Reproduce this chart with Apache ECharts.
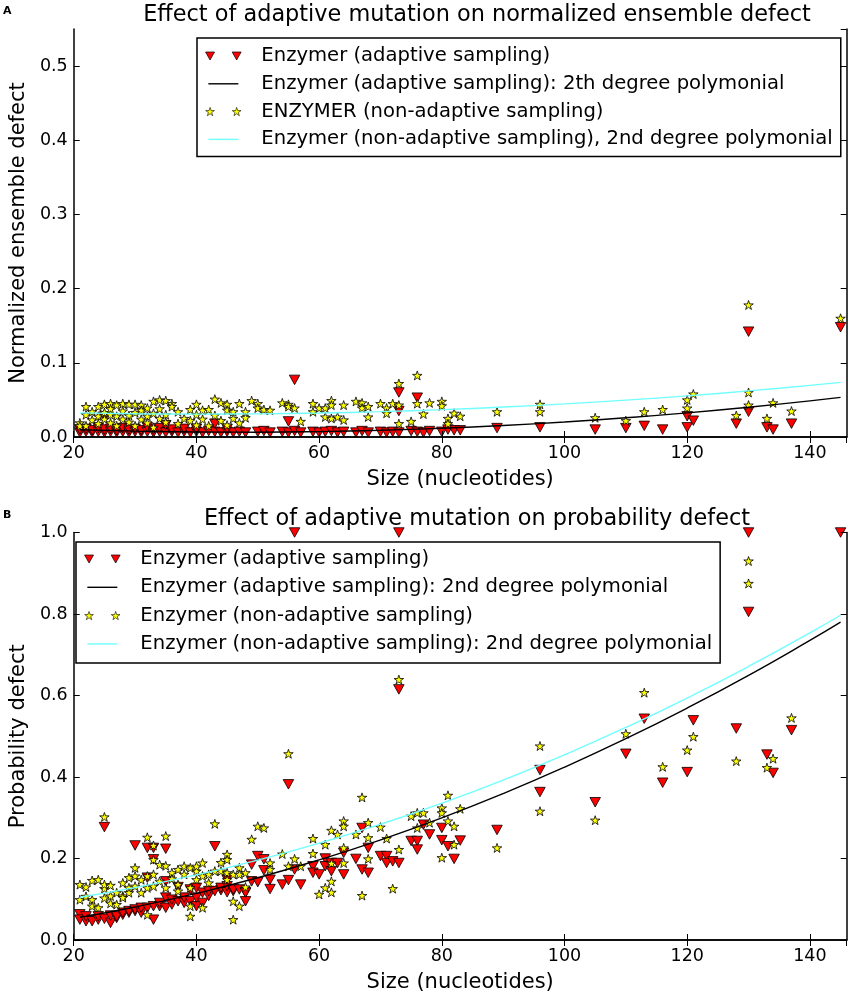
<!DOCTYPE html>
<html>
<head>
<meta charset="utf-8">
<script src="https://cdn.jsdelivr.net/npm/echarts@6/dist/echarts.min.js"></script>
<style>
html,body{margin:0;padding:0;background:#fff;}
#chart{width:851px;height:994px;}
</style>
</head>
<body>
<div id="chart"></div>
<script>
// ---------------- data ----------------
const xTicks = [20, 40, 60, 80, 100, 120, 140];
const yTicksA = [0.0, 0.1, 0.2, 0.3, 0.4, 0.5];
const yTicksB = [0.0, 0.2, 0.4, 0.6, 0.8, 1.0];

const titleA = 'Effect of adaptive mutation on normalized ensemble defect';
const titleB = 'Effect of adaptive mutation on probability defect';
const namesA = ['Enzymer (adaptive sampling)', 'Enzymer (adaptive sampling): 2th degree polymonial',
  'ENZYMER (non-adaptive sampling)', 'Enzymer (non-adaptive sampling), 2nd degree polymonial'];
const namesB = ['Enzymer (adaptive sampling)', 'Enzymer (adaptive sampling): 2nd degree polymonial',
  'Enzymer (non-adaptive sampling)', 'Enzymer (non-adaptive sampling): 2nd degree polymonial'];

// Panel A: normalized ensemble defect
const ensAdaptive = [[21,0.006],[21,0.010],[22,0.007],[22,0.011],[23,0.006],[23,0.009],[24,0.007],[24,0.012],[25,0.006],[25,0.010],[25,0.027],[26,0.007],[26,0.011],[27,0.006],[27,0.009],[28,0.007],[28,0.012],[29,0.006],[29,0.010],[30,0.007],[30,0.011],[31,0.006],[31,0.009],[32,0.007],[32,0.013],[33,0.006],[33,0.010],[34,0.007],[34,0.012],[35,0.006],[35,0.016],[36,0.007],[36,0.010],[37,0.006],[38,0.007],[38,0.011],[39,0.006],[40,0.007],[40,0.011],[41,0.006],[42,0.008],[43,0.007],[43,0.018],[44,0.006],[45,0.007],[45,0.011],[46,0.006],[47,0.007],[48,0.006],[50,0.007],[51,0.008],[52,0.006],[54,0.007],[55,0.006],[55,0.021],[56,0.077],[56,0.008],[57,0.006],[59,0.007],[60,0.006],[61,0.007],[62,0.008],[63,0.006],[64,0.007],[66,0.006],[67,0.008],[68,0.006],[70,0.007],[71,0.006],[72,0.007],[73,0.060],[73,0.035],[73,0.006],[75,0.008],[76,0.053],[76,0.007],[77,0.006],[78,0.008],[80,0.007],[81,0.010],[82,0.009],[83,0.009],[89,0.012],[96,0.013],[105,0.010],[110,0.012],[113,0.015],[116,0.010],[120,0.028],[120,0.013],[121,0.022],[128,0.018],[130,0.034],[130,0.142],[133,0.013],[134,0.010],[137,0.018],[145,0.148]];
const ensNonAdaptive = [[21,0.019],[21,0.015],[22,0.041],[22,0.015],[22,0.030],[23,0.034],[23,0.023],[24,0.041],[24,0.028],[24,0.018],[25,0.044],[25,0.024],[25,0.033],[26,0.045],[26,0.019],[26,0.030],[26,0.038],[27,0.043],[27,0.015],[27,0.028],[28,0.045],[28,0.024],[28,0.035],[29,0.044],[29,0.029],[29,0.020],[30,0.044],[30,0.015],[30,0.033],[31,0.043],[31,0.024],[31,0.036],[32,0.039],[32,0.028],[32,0.019],[33,0.048],[33,0.013],[33,0.032],[34,0.050],[34,0.025],[34,0.038],[35,0.049],[35,0.030],[35,0.020],[36,0.045],[36,0.041],[37,0.034],[37,0.018],[38,0.025],[39,0.037],[39,0.022],[40,0.044],[40,0.030],[40,0.016],[41,0.036],[41,0.024],[42,0.037],[42,0.015],[43,0.051],[43,0.029],[44,0.046],[44,0.022],[45,0.044],[45,0.036],[45,0.016],[46,0.034],[46,0.025],[47,0.045],[47,0.019],[48,0.034],[48,0.026],[49,0.049],[50,0.045],[50,0.039],[51,0.037],[52,0.036],[54,0.046],[55,0.044],[55,0.041],[56,0.039],[57,0.021],[59,0.045],[59,0.034],[60,0.039],[61,0.039],[61,0.027],[62,0.049],[62,0.043],[62,0.025],[63,0.027],[64,0.043],[64,0.023],[66,0.048],[67,0.046],[67,0.039],[68,0.041],[68,0.027],[70,0.045],[71,0.039],[71,0.032],[72,0.045],[73,0.072],[73,0.043],[73,0.018],[75,0.021],[76,0.083],[76,0.045],[77,0.031],[78,0.046],[80,0.048],[80,0.042],[81,0.025],[81,0.018],[82,0.032],[83,0.028],[89,0.034],[96,0.044],[96,0.034],[105,0.026],[110,0.022],[113,0.034],[116,0.037],[120,0.050],[120,0.039],[121,0.058],[128,0.029],[130,0.060],[130,0.043],[130,0.178],[133,0.025],[134,0.046],[137,0.035],[145,0.160]];
const ensAdaptiveFit = [[21,0.0097],[30,0.0079],[40,0.0067],[50,0.0065],[60,0.0073],[70,0.0091],[80,0.0118],[90,0.0155],[100,0.0202],[110,0.0259],[120,0.0325],[130,0.0402],[140,0.0487],[145,0.0534]];
const ensNonAdaptiveFit = [[21,0.0325],[30,0.0314],[40,0.0309],[50,0.0312],[60,0.0323],[70,0.0342],[80,0.0369],[90,0.0404],[100,0.0446],[110,0.0497],[120,0.0555],[130,0.0622],[140,0.0696],[145,0.0736]];

// Panel B: probability defect
const probAdaptive = [[21,0.063],[21,0.050],[22,0.046],[22,0.058],[23,0.050],[23,0.046],[24,0.050],[24,0.058],[25,0.052],[25,0.277],[26,0.042],[26,0.060],[27,0.054],[27,0.058],[28,0.062],[28,0.067],[29,0.067],[29,0.071],[30,0.071],[30,0.232],[30,0.075],[31,0.067],[31,0.079],[32,0.079],[32,0.226],[32,0.153],[33,0.050],[33,0.083],[33,0.226],[33,0.198],[34,0.083],[34,0.091],[35,0.079],[35,0.224],[35,0.104],[35,0.144],[36,0.087],[36,0.099],[37,0.095],[37,0.130],[38,0.091],[38,0.104],[39,0.095],[39,0.124],[40,0.083],[40,0.104],[40,0.128],[41,0.091],[41,0.116],[42,0.108],[42,0.120],[43,0.230],[43,0.120],[44,0.122],[44,0.128],[45,0.117],[45,0.132],[45,0.148],[46,0.120],[46,0.124],[47,0.124],[48,0.117],[48,0.095],[48,0.116],[49,0.185],[49,0.144],[50,0.142],[50,0.206],[51,0.198],[51,0.171],[52,0.148],[52,0.125],[54,0.136],[55,0.147],[55,0.382],[56,0.173],[56,1.0],[57,0.136],[59,0.181],[59,0.165],[60,0.161],[61,0.200],[61,0.181],[62,0.189],[62,0.169],[63,0.189],[64,0.214],[64,0.161],[66,0.199],[67,0.173],[67,0.275],[68,0.165],[68,0.226],[70,0.206],[71,0.206],[71,0.189],[72,0.193],[73,0.189],[73,0.615],[73,1.0],[75,0.243],[76,0.243],[76,0.222],[77,0.283],[78,0.259],[80,0.275],[80,0.245],[81,0.230],[82,0.199],[83,0.244],[89,0.270],[96,0.417],[96,0.363],[105,0.338],[110,0.457],[113,0.543],[116,0.386],[120,0.412],[121,0.539],[128,0.519],[130,0.805],[130,1.0],[133,0.455],[134,0.410],[137,0.515],[145,1.0]];
const probNonAdaptive = [[21,0.136],[21,0.099],[22,0.130],[22,0.107],[23,0.099],[23,0.083],[23,0.146],[24,0.148],[24,0.079],[25,0.302],[25,0.126],[25,0.103],[25,0.136],[26,0.134],[26,0.108],[26,0.090],[27,0.116],[27,0.087],[28,0.140],[28,0.108],[28,0.104],[29,0.153],[29,0.128],[29,0.116],[30,0.157],[30,0.132],[30,0.177],[31,0.148],[31,0.116],[32,0.157],[32,0.128],[32,0.062],[32,0.252],[33,0.232],[33,0.161],[33,0.132],[33,0.197],[34,0.144],[34,0.185],[35,0.255],[35,0.128],[35,0.182],[36,0.165],[36,0.150],[37,0.173],[37,0.136],[37,0.120],[38,0.161],[38,0.181],[39,0.177],[39,0.128],[39,0.058],[39,0.083],[40,0.169],[40,0.148],[40,0.181],[41,0.157],[41,0.079],[41,0.189],[42,0.161],[42,0.140],[43,0.285],[43,0.169],[44,0.169],[44,0.190],[45,0.210],[45,0.197],[45,0.165],[45,0.148],[46,0.050],[46,0.095],[46,0.161],[47,0.177],[47,0.161],[47,0.083],[48,0.165],[48,0.130],[49,0.247],[50,0.279],[51,0.275],[52,0.189],[52,0.173],[54,0.211],[55,0.181],[55,0.457],[56,0.199],[57,0.181],[59,0.249],[59,0.212],[60,0.112],[61,0.128],[61,0.234],[62,0.117],[62,0.269],[62,0.144],[62,0.188],[63,0.259],[64,0.292],[64,0.279],[64,0.226],[64,0.189],[66,0.259],[67,0.350],[67,0.109],[68,0.288],[68,0.251],[68,0.199],[70,0.277],[71,0.249],[72,0.126],[73,0.222],[73,0.639],[75,0.304],[76,0.312],[76,0.275],[77,0.312],[78,0.288],[80,0.324],[80,0.312],[80,0.202],[81,0.355],[81,0.292],[82,0.279],[82,0.234],[83,0.322],[89,0.226],[96,0.476],[96,0.316],[105,0.294],[110,0.506],[113,0.607],[116,0.425],[120,0.466],[121,0.499],[128,0.439],[130,0.930],[130,0.875],[133,0.423],[134,0.445],[137,0.545]];
const probAdaptiveFit = [[21,0.0556],[30,0.0810],[40,0.1143],[50,0.1528],[60,0.1966],[70,0.2456],[80,0.2998],[90,0.3593],[100,0.4240],[110,0.4939],[120,0.5691],[130,0.6495],[140,0.7352],[145,0.7800]];
const probNonAdaptiveFit = [[21,0.1050],[30,0.1286],[40,0.1598],[50,0.1960],[60,0.2374],[70,0.2840],[80,0.3357],[90,0.3925],[100,0.4545],[110,0.5216],[120,0.5938],[130,0.6712],[140,0.7538],[145,0.7969]];

// ---------------- styling helpers ----------------
const FONT = 'DejaVu Sans';
function starPts(cx, cy, R) {
  const r = R * 0.382, p = [];
  for (let i = 0; i < 10; i++) {
    const a = (-90 + i * 36) * Math.PI / 180, rr = i % 2 ? r : R;
    p.push((cx + rr * Math.cos(a)).toFixed(2) + ',' + (cy + rr * Math.sin(a)).toFixed(2));
  }
  return 'M' + p.join('L') + 'Z';
}
const STAR = 'path://' + starPts(0, 0, 10);
const TRI = 'path://M0,0L10,0L5,9Z';
const BOX = 'M0,0L0,0M38,12L38,12';
const iconTri = 'path://' + BOX + 'M1.2,2L10.2,2L5.7,10ZM27.8,2L36.8,2L32.3,10Z';
const iconStar = 'path://' + BOX + starPts(5.7, 6.4, 4.6) + starPts(32.3, 6.4, 4.6);
const iconLine = 'path://' + BOX + 'M4,5.3L34,5.3L34,6.7L4,6.7Z';

const RED = '#ff0000', YEL = '#ffff00', CYAN = '#70ffff';

function xAxes(grid) {
  const base = {
    type: 'value', gridIndex: grid, min: 20, max: 146, interval: 20, z: 5,
    splitLine: {show: false},
    axisLine: {show: true, lineStyle: {color: '#000', width: 1.5}},
    axisTick: {show: true, inside: true, length: 6, lineStyle: {color: '#000', width: 1}}
  };
  return [
    Object.assign({}, base, {
      position: 'bottom',
      name: 'Size (nucleotides)', nameLocation: 'middle', nameGap: 32,
      nameTextStyle: {fontFamily: FONT, fontSize: 21, color: '#000'},
      axisLabel: {show: true, margin: 7, fontFamily: FONT, fontSize: 17.5, color: '#000', showMaxLabel: false,
        formatter: v => xTicks.indexOf(v) >= 0 ? String(v) : ''}
    }),
    Object.assign({}, base, {position: 'top', axisLabel: {show: false}})
  ];
}
function yAxes(grid, max, interval, ticks, name) {
  const base = {
    type: 'value', gridIndex: grid, min: 0, max: max, interval: interval, z: 5,
    splitLine: {show: false},
    axisLine: {show: true, lineStyle: {color: '#000', width: 1.5}},
    axisTick: {show: true, inside: true, length: 6, lineStyle: {color: '#000', width: 1}}
  };
  return [
    Object.assign({}, base, {
      position: 'left',
      name: name, nameLocation: 'middle', nameGap: 39,
      nameTextStyle: {fontFamily: FONT, fontSize: 21, color: '#000'},
      axisLabel: {show: true, margin: 6, fontFamily: FONT, fontSize: 17.5, color: '#000',
        showMaxLabel: max === 1,
        formatter: v => ticks.some(t => Math.abs(t - v) < 1e-9) ? v.toFixed(1) : ''}
    }),
    Object.assign({}, base, {position: 'right', axisLabel: {show: false}})
  ];
}
function scatter(name, data, xi, yi, sym, size, color) {
  return {type: 'scatter', name: name, data: data, xAxisIndex: xi, yAxisIndex: yi,
    symbol: sym, symbolSize: size,
    itemStyle: {color: color, borderColor: '#000', borderWidth: 0.8, opacity: 1},
    emphasis: {disabled: true}};
}
function fit(name, data, xi, yi, color) {
  return {type: 'line', name: name, data: data, xAxisIndex: xi, yAxisIndex: yi,
    symbol: 'none', showSymbol: false, smooth: true,
    itemStyle: {color: color, borderWidth: 0},
    lineStyle: {color: color, width: 1.4}, emphasis: {disabled: true}};
}
function legend(names, left, top, gap, padding) {
  return {
    orient: 'vertical', left: left, top: top, padding: padding, itemGap: gap,
    itemWidth: 38, itemHeight: 12, selectedMode: false,
    backgroundColor: '#fff', borderColor: '#000', borderWidth: 1.5, borderRadius: 0,
    symbolKeepAspect: true,
    itemStyle: {borderWidth: 0.7, borderColor: '#000'},
    textStyle: {fontFamily: FONT, fontSize: 19.6, color: '#000', lineHeight: 20, padding: [0, 0, 0, 14]},
    data: [
      {name: names[0], icon: iconTri, itemStyle: {color: RED, borderColor: '#000', borderWidth: 0.7}},
      {name: names[1], icon: iconLine, itemStyle: {borderWidth: 0}},
      {name: names[2], icon: iconStar, itemStyle: {color: YEL, borderColor: '#000', borderWidth: 0.6}},
      {name: names[3], icon: iconLine, itemStyle: {borderWidth: 0}}
    ]
  };
}

const chart = echarts.init(document.getElementById('chart'), null, {renderer: 'canvas'});
chart.setOption({
  animation: false,
  backgroundColor: '#fff',
  title: [
    {text: 'A', left: 3, top: 6, padding: 0, textStyle: {fontFamily: FONT, fontSize: 11, fontWeight: 'bold', color: '#000'}},
    {text: titleA, left: 477, top: 4.5, padding: 0, textAlign: 'center', textStyle: {fontFamily: FONT, fontSize: 22.4, fontWeight: 'normal', color: '#000'}},
    {text: 'B', left: 3, top: 510, padding: 0, textStyle: {fontFamily: FONT, fontSize: 11, fontWeight: 'bold', color: '#000'}},
    {text: titleB, left: 477, top: 508.5, padding: 0, textAlign: 'center', textStyle: {fontFamily: FONT, fontSize: 22.4, fontWeight: 'normal', color: '#000'}}
  ],
  grid: [
    {left: 66.7, top: 29, width: 780, height: 408},
    {left: 66.7, top: 532.5, width: 780, height: 408}
  ],
  xAxis: xAxes(0).concat(xAxes(1)),
  yAxis: yAxes(0, 0.55, 0.1, yTicksA, 'Normalized ensemble defect').concat(yAxes(1, 1, 0.2, yTicksB, 'Probability defect')),
  legend: [
    legend(namesA, 197, 38, 7.8, [8, 8, 7, 7]),
    legend(namesB, 76, 542, 8.3, [7, 8, 9, 7])
  ],
  series: [
    scatter(namesA[0], ensAdaptive, 0, 0, TRI, [10.5, 9.5], RED),
    fit(namesA[1], ensAdaptiveFit, 0, 0, '#000'),
    scatter(namesA[2], ensNonAdaptive, 0, 0, STAR, [9.5, 9], YEL),
    fit(namesA[3], ensNonAdaptiveFit, 0, 0, CYAN),
    scatter(namesB[0], probAdaptive, 2, 2, TRI, [10.5, 9.5], RED),
    fit(namesB[1], probAdaptiveFit, 2, 2, '#000'),
    scatter(namesB[2], probNonAdaptive, 2, 2, STAR, [9.5, 9], YEL),
    fit(namesB[3], probNonAdaptiveFit, 2, 2, CYAN)
  ]
});
</script>
</body>
</html>
